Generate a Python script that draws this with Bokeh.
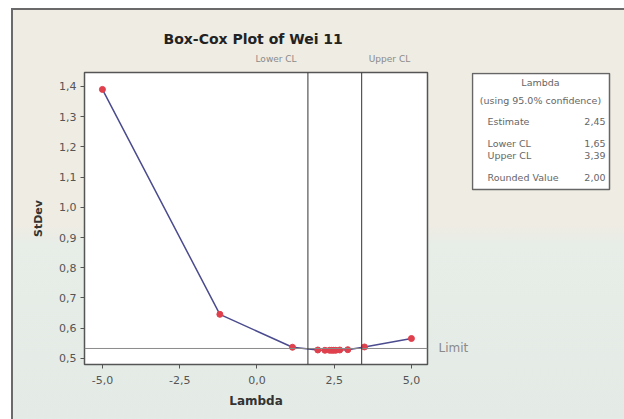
from bokeh.plotting import figure
from bokeh.layouts import row
from bokeh.models import Span, FixedTicker, Range1d, LinearAxis, ColumnDataSource
from bokeh.core.properties import value
from bokeh.embed import file_html
from bokeh.resources import INLINE

# ---- data ----
lam = [-5.0, -1.2, 1.15, 1.97, 2.2, 2.35, 2.42, 2.48, 2.55, 2.68, 2.94, 3.48, 5.0]
stdev = [1.39, 0.646, 0.537, 0.528, 0.527, 0.527, 0.527, 0.527, 0.527, 0.528, 0.529, 0.538, 0.566]
limit = 0.533
lower_cl = 1.65
upper_cl = 3.39
x_ticks = [-5.0, -2.5, 0.0, 2.5, 5.0]
x_tick_labels = ["-5,0", "-2,5", "0,0", "2,5", "5,0"]
y_ticks = [0.5, 0.6, 0.7, 0.8, 0.9, 1.0, 1.1, 1.2, 1.3, 1.4]
y_tick_labels = ["0,5", "0,6", "0,7", "0,8", "0,9", "1,0", "1,1", "1,2", "1,3", "1,4"]
table_header = ["Lambda", "(using 95.0% confidence)"]
table_names = ["Estimate", "Lower CL", "Upper CL", "Rounded Value"]
table_values = ["2,45", "1,65", "3,39", "2,00"]

X0, X1 = -5.58, 5.52
Y0, Y1 = 0.48, 1.446
FONT = "DejaVu Sans"
GRAY = "#555555"

p = figure(width=458, height=411, output_backend="svg", toolbar_location=None,
           x_range=Range1d(X0, X1), y_range=Range1d(Y0, Y1),
           min_border_left=71, min_border_right=40, min_border_top=62, min_border_bottom=57)
p.border_fill_color = None
p.background_fill_color = "white"
p.outline_line_color = "#555555"
p.outline_line_width = 1.5
p.grid.visible = False

xb = p.below[0]
yl = p.left[0]

p.title.text = "Box-Cox Plot of Wei 11"
p.title.align = "left"
p.title.offset = 79
p.title.text_font = FONT
p.title.text_font_size = "14px"
p.title.text_color = "#222222"
p.title.standoff = 8

for ax in (xb, yl):
    ax.axis_line_color = None
    ax.major_tick_line_color = GRAY
    ax.major_tick_out = 4
    ax.major_tick_in = 0
    ax.minor_tick_line_color = None
    ax.major_label_text_font = FONT
    ax.major_label_text_font_size = "11px"
    ax.major_label_text_color = GRAY
    ax.axis_label_text_font = FONT
    ax.axis_label_text_font_style = "bold"
    ax.axis_label_text_color = "#333333"

xb.ticker = FixedTicker(ticks=x_ticks)
xb.major_label_overrides = dict(zip(x_ticks, x_tick_labels))
yl.ticker = FixedTicker(ticks=y_ticks)
yl.major_label_overrides = dict(zip(y_ticks, y_tick_labels))
xb.axis_label = "Lambda"
yl.axis_label = "StDev"
xb.axis_label_text_font_size = "12px"
yl.axis_label_text_font_size = "11px"
xb.major_label_standoff = 7
yl.major_label_standoff = 4
xb.axis_label_standoff = 7
yl.axis_label_standoff = 11

# CL labels on a top axis, Limit label on a right axis
top_ax = LinearAxis(ticker=FixedTicker(ticks=[0.62, 4.29]),
                    major_label_overrides={0.62: "Lower CL", 4.29: "Upper CL"})
right_ax = LinearAxis(ticker=FixedTicker(ticks=[limit]), major_label_overrides={limit: "Limit"})
p.add_layout(top_ax, "above")
p.add_layout(right_ax, "right")
for ax in (top_ax, right_ax):
    ax.axis_line_color = None
    ax.major_tick_line_color = None
    ax.minor_tick_line_color = None
    ax.major_label_text_font = FONT
    ax.major_label_text_color = "#8a8a8a"
top_ax.major_label_text_font_size = "9px"
top_ax.major_label_standoff = 3
right_ax.major_label_text_font_size = "12px"
right_ax.major_label_standoff = 5

p.add_layout(Span(location=limit, dimension="width", line_color="#8a8a8a", line_width=1))
p.add_layout(Span(location=lower_cl, dimension="height", line_color="#333333", line_width=1))
p.add_layout(Span(location=upper_cl, dimension="height", line_color="#333333", line_width=1))

p.line(lam, stdev, line_color="#4b4b8f", line_width=1.5)
p.scatter(lam, stdev, marker="circle", size=6, fill_color="#e0404c", line_color="#e0404c")

# ---- table panel (pixel coordinates inside its own frame) ----
t = figure(width=153, height=411, output_backend="svg", toolbar_location=None,
           x_range=Range1d(0, 153), y_range=Range1d(292, 0),
           min_border_left=0, min_border_right=0, min_border_top=62, min_border_bottom=57)
t.axis.visible = False
t.grid.visible = False
t.border_fill_color = None
t.background_fill_color = None
t.outline_line_color = None

t.quad(left=[1], right=[138], top=[1], bottom=[117], fill_color="white",
       line_color="#666666", line_width=1.5)

FS = "9.5px"
head_src = ColumnDataSource(dict(x=[69, 69], y=[10, 28], text=table_header))
t.text(x="x", y="y", text="text", source=head_src, text_align="center", text_baseline="middle",
       text_font_size=FS, text_color="#666666", text_font=value(FONT))
row_y = [49, 71, 83, 105]
name_src = ColumnDataSource(dict(x=[16] * 4, y=row_y, text=table_names))
val_src = ColumnDataSource(dict(x=[134] * 4, y=row_y, text=table_values))
t.text(x="x", y="y", text="text", source=name_src, text_align="left", text_baseline="middle",
       text_font_size=FS, text_color="#666666", text_font=value(FONT))
t.text(x="x", y="y", text="text", source=val_src, text_align="right", text_baseline="middle",
       text_font_size=FS, text_color="#666666", text_font=value(FONT))

layout = row(p, t)
layout.styles = {"margin-left": "11px", "margin-top": "8px",
                 "border-left": "2px solid #6a6a6a", "border-top": "2px solid #6a6a6a",
                 "background": "linear-gradient(to bottom, #efece3 0%, #efece3 52%, #e7ede7 57%, #e4ebe6 100%)"}

open("out.html", "w").write(file_html(layout, INLINE))
